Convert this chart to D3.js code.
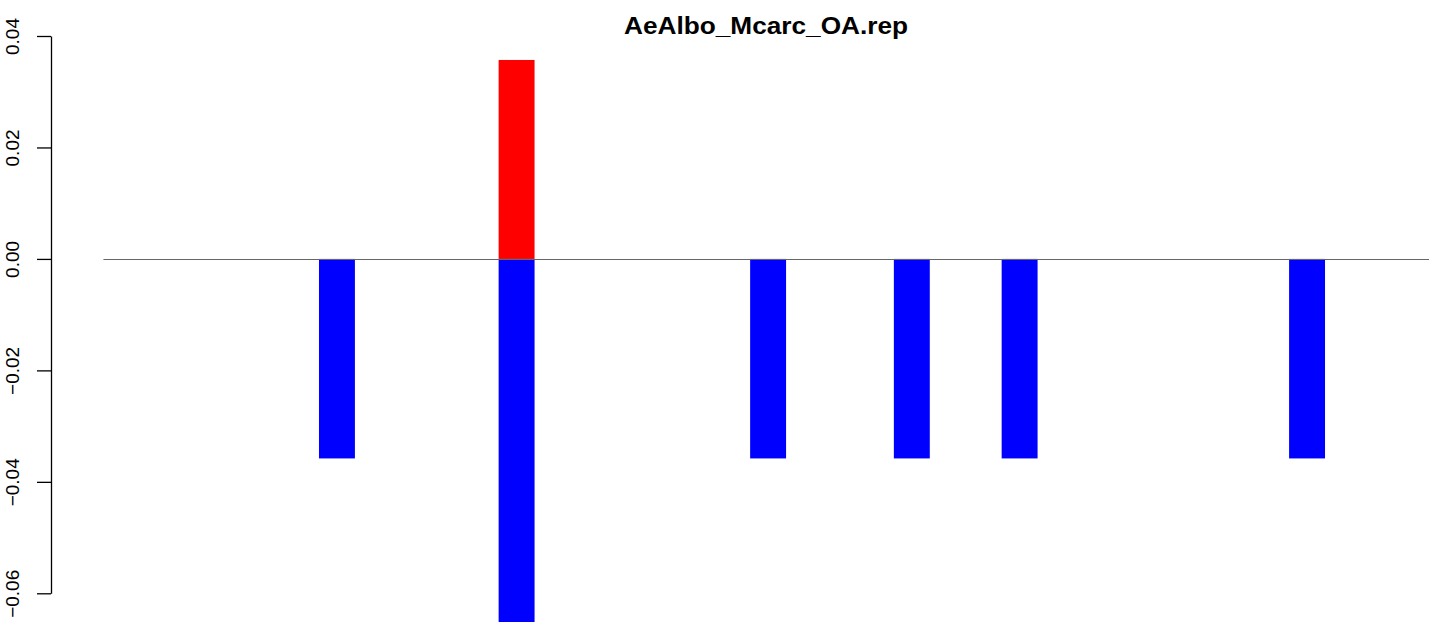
<!DOCTYPE html>
<html>
<head>
<meta charset="utf-8">
<script src="https://cdn.jsdelivr.net/npm/d3@7"></script>
<style>
  html, body { margin: 0; padding: 0; background: #fff; }
  svg { display: block; font-family: "Liberation Sans", Arial, Helvetica, sans-serif; }
</style>
</head>
<body>
<svg id="chart" width="1429" height="622"></svg>
<script>
// ---- data ----
const title = "AeAlbo_Mcarc_OA.rep";
const categories = d3.range(37).map(i => "s" + (i + 1));
// positive (red) and negative (blue) components per category
const positiveValues = [0,0,0,0,0,0,0,0,0,0,0,0.0357,0,0,0,0,0,0,0,0,0,0,0,0,0,0,0,0,0,0,0,0,0,0,0,0,0];
const negativeValues = [0,0,0,0,0,0,-0.0358,0,0,0,0,-0.0714,0,0,0,0,0,0,-0.0358,0,0,0,-0.0358,0,0,-0.0358,0,0,0,0,0,0,0,-0.0358,0,0,0];
const yTicks = [-0.06, -0.04, -0.02, 0.00, 0.02, 0.04];

// ---- layout ----
const svg = d3.select("#chart");
const W = 1429, H = 622;
const axisX = 51;

const x = d3.scaleBand()
  .domain(categories)
  .range([103.4, 103.4 + 37 * 35.93])
  .paddingInner(0).paddingOuter(0);

const y = d3.scaleLinear()
  .domain([-0.06, 0.04])
  .range([593.3, 36]);

// bars
const rows = categories.map((c, i) => ({ c, pos: positiveValues[i], neg: negativeValues[i] }));

svg.append("g").selectAll("rect.pos")
  .data(rows.filter(d => d.pos !== 0))
  .join("rect")
  .attr("x", d => x(d.c))
  .attr("width", x.bandwidth())
  .attr("y", d => y(d.pos))
  .attr("height", d => y(0) - y(d.pos))
  .attr("fill", "#ff0000");

svg.append("g").selectAll("rect.neg")
  .data(rows.filter(d => d.neg !== 0))
  .join("rect")
  .attr("x", d => x(d.c))
  .attr("width", x.bandwidth())
  .attr("y", y(0))
  .attr("height", d => y(d.neg) - y(0))
  .attr("fill", "#0000ff");

// zero line
svg.append("line")
  .attr("x1", x.range()[0]).attr("x2", W)
  .attr("y1", Math.round(y(0)) + 0.5).attr("y2", Math.round(y(0)) + 0.5)
  .attr("stroke", "#666").attr("stroke-width", 1);

// y axis
const yAxis = d3.axisLeft(y)
  .tickValues(yTicks)
  .tickSize(14)
  .tickSizeOuter(0)
  .tickFormat(d3.format(".2f"));

const gA = svg.append("g")
  .attr("transform", `translate(${axisX},0)`)
  .call(yAxis);
gA.select(".domain").attr("stroke", "#000").attr("stroke-width", 1.3);
gA.selectAll(".tick line").attr("stroke", "#000").attr("stroke-width", 1.3);
gA.selectAll(".tick text")
  .attr("transform", "rotate(-90)")
  .attr("x", 0)
  .attr("y", -32)
  .attr("dy", 0)
  .attr("text-anchor", "middle")
  .attr("font-size", 19)
  .attr("font-family", "Liberation Sans, Arial, sans-serif")
  .attr("fill", "#000")
  .text(d => d3.format(".2f")(d).replace("-", "\u2212"));

// title
svg.append("text")
  .attr("x", 766)
  .attr("y", 34)
  .attr("text-anchor", "middle")
  .attr("font-weight", "bold")
  .attr("font-size", 23)
  .attr("textLength", 284)
  .attr("lengthAdjust", "spacingAndGlyphs")
  .attr("fill", "#000")
  .text(title);
</script>
</body>
</html>
